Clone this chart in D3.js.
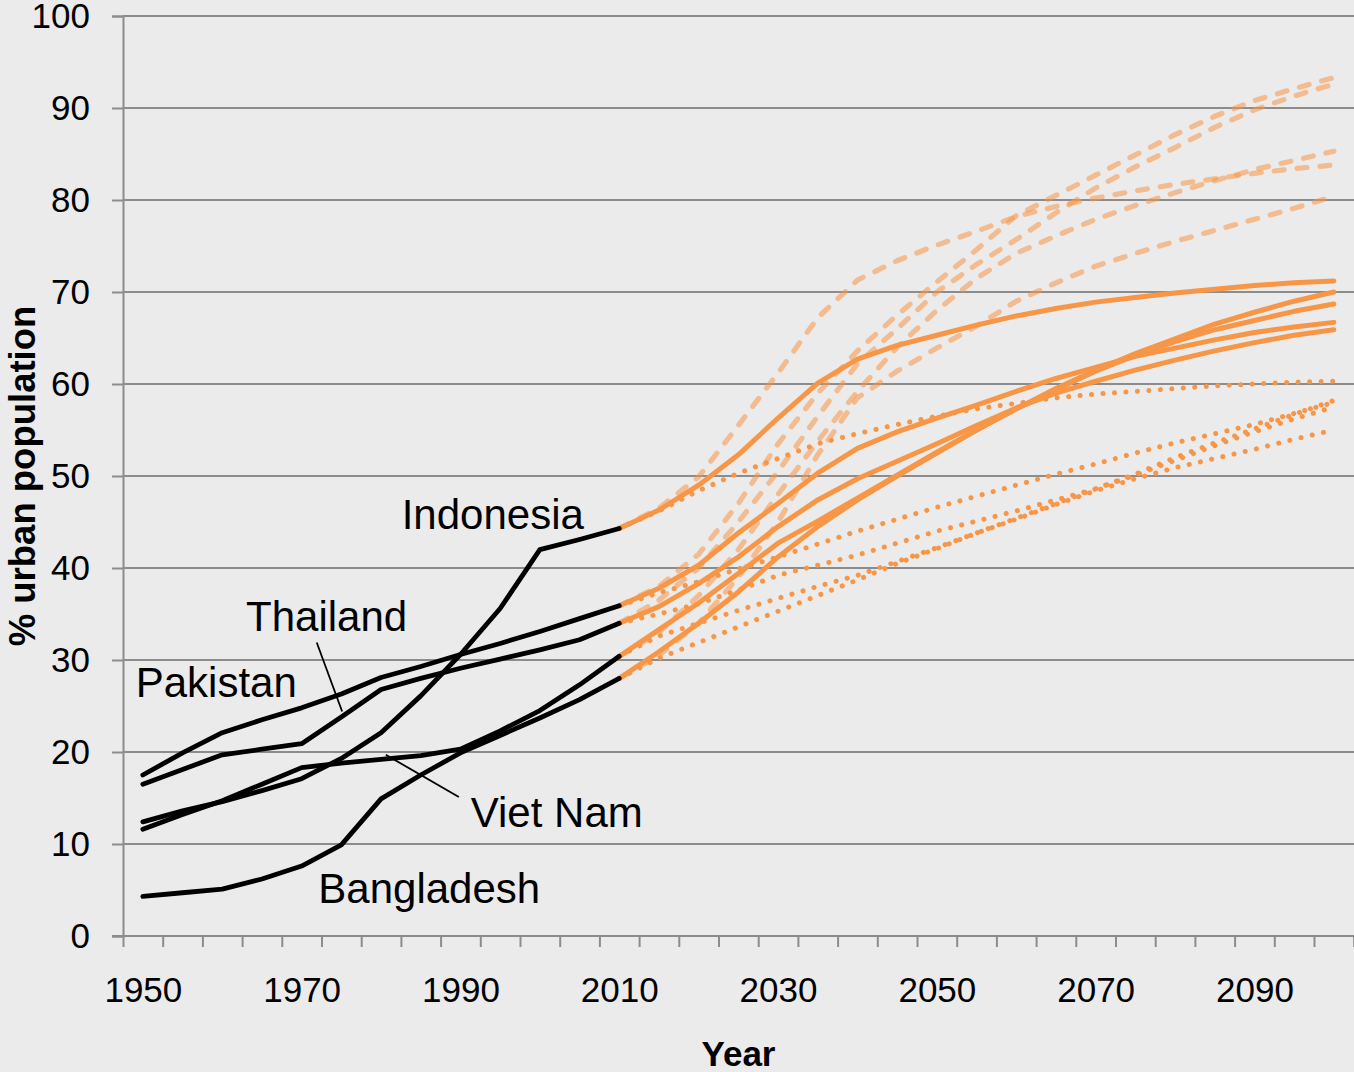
<!DOCTYPE html>
<html><head><meta charset="utf-8">
<script src="https://cdn.jsdelivr.net/npm/d3@7"></script>
<style>
html,body{margin:0;padding:0;background:#EBEBEB;}
svg{display:block;}
text{font-family:"Liberation Sans", Arial, sans-serif;}
</style></head>
<body>
<svg id="chart" width="1354" height="1072"></svg>
<script>
// ---------- DATA ----------
const histYears = [1950,1955,1960,1965,1970,1975,1980,1985,1990,1995,2000,2005,2010];
const projYears = [2010,2015,2020,2025,2030,2035,2040,2045,2050,2055,2060,2065,2070,2075,2080,2085,2090,2095,2100];
const xLabelYears = [1950,1970,1990,2010,2030,2050,2070,2090];
const yTickValues = [0,10,20,30,40,50,60,70,80,90,100];
const countries = ["Indonesia","Pakistan","Thailand","Viet Nam","Bangladesh"];

// historical (black)
const histIndonesia  = [12.4,13.6,14.6,15.8,17.1,19.3,22.1,26.1,30.6,35.6,42.0,43.1,44.3];
const histPakistan   = [17.5,19.9,22.1,23.5,24.8,26.3,28.1,29.3,30.6,31.8,33.1,34.5,35.9];
const histThailand   = [16.5,18.1,19.7,20.3,20.9,23.8,26.8,28.0,29.1,30.1,31.1,32.2,34.0];
const histVietNam    = [11.6,13.2,14.7,16.5,18.3,18.8,19.2,19.6,20.3,22.3,24.5,27.3,30.4];
const histBangladesh = [4.3,4.7,5.1,6.2,7.6,9.9,14.9,17.5,19.9,21.8,23.7,25.7,28.0];

// projections: medium (solid)
const medIndonesia  = [44.3,46.3,49.0,52.3,56.3,60.1,62.7,64.2,65.3,66.4,67.4,68.2,68.9,69.4,69.9,70.3,70.7,71.0,71.2];
const medPakistan   = [35.9,37.8,40.3,43.8,47.0,50.3,53.0,54.8,56.3,57.7,59.2,60.6,61.8,63.0,63.9,64.8,65.6,66.2,66.7];
const medThailand   = [34.0,35.8,38.3,41.2,44.5,47.4,49.7,51.6,53.5,55.5,57.4,59.0,60.3,61.5,62.6,63.6,64.5,65.3,65.9];
const medVietNam    = [30.4,33.3,36.2,39.4,42.7,45.1,47.6,50.1,52.6,55.0,57.3,59.4,61.4,63.1,64.6,65.9,66.9,67.9,68.7];
const medBangladesh = [28.0,30.9,34.0,37.4,41.2,44.5,47.4,50.0,52.5,55.0,57.3,59.5,61.5,63.3,64.9,66.5,67.8,69.0,70.0];

// projections: high urbanization (dashed)
const highIndonesia  = [44.3,46.5,49.9,55.5,61.2,67.2,71.3,73.4,75.1,76.6,78.2,79.3,80.2,81.0,81.7,82.3,82.9,83.4,83.8];
const highPakistan   = [35.9,38.0,41.5,47.0,53.5,59.0,63.6,67.5,71.1,74.6,78.3,80.5,82.7,84.9,87.1,89.1,90.8,92.1,93.3];
const highThailand   = [34.0,36.5,40.0,45.0,50.5,56.5,62.2,66.0,70.0,73.0,75.7,78.6,81.3,83.6,85.7,87.9,89.8,91.3,92.6];
const highVietNam    = [30.4,33.0,37.0,42.0,48.0,53.8,59.2,64.0,68.0,71.5,74.2,76.1,77.9,79.4,80.8,82.1,83.3,84.3,85.3];
const highBangladesh = [28.0,30.5,34.0,39.0,45.0,52.3,58.5,61.4,63.9,66.3,69.0,71.0,72.8,74.2,75.5,76.7,77.9,79.1,80.4];

// projections: low urbanization (dotted)
const lowIndonesia  = [44.3,46.2,48.4,50.3,51.9,53.5,54.6,55.6,56.5,57.3,57.9,58.5,58.9,59.2,59.5,59.8,60.0,60.2,60.3];
const lowPakistan   = [35.9,37.3,38.5,39.9,41.2,42.6,44.0,45.3,46.6,47.8,49.0,50.2,51.3,52.5,53.6,54.6,55.6,56.8,58.0];
const lowThailand   = [34.0,35.0,36.1,37.6,39.2,40.3,41.4,42.7,44.0,45.1,46.2,47.4,48.6,50.2,52.0,53.6,55.1,56.7,58.2];
const lowVietNam    = [30.4,32.6,34.0,35.4,36.7,38.0,39.2,40.7,42.2,43.8,45.4,47.0,48.6,50.1,51.7,53.3,54.8,56.2,57.5];
const lowBangladesh = [28.0,30.2,31.9,33.6,35.3,37.0,38.7,40.5,42.1,43.8,45.3,46.9,48.4,49.7,50.9,51.9,52.9,54.0,55.0];

// annotations (anchor in data units: year, % urban)
const labelTexts = ["Indonesia","Thailand","Pakistan","Viet Nam","Bangladesh"];
const labelYears = [1982.6,1963.0,1949.1,1991.3,1972.1];
const labelValues = [44.2,33.2,26.0,11.9,3.6];
const pointerYears = [[1971.9,1975.1],[1980.6,1989.8]];
const pointerValues = [[31.9,24.4],[19.7,15.1]];

// ---------- CHART ----------
const svg = d3.select("#chart");
const W = 1354, H = 1072;
const plotLeft = 123, plotTop = 16, plotBottom = 936, plotRight = 1353.7;
svg.append("rect").attr("width",W).attr("height",H).attr("fill","#EBEBEB");

const x = d3.scaleLinear().domain([1947.5, 2102.5]).range([plotLeft, plotRight]);
const y = d3.scaleLinear().domain([0,100]).range([plotBottom, plotTop]);

const gridColor = "#8C8C8C";

// gridlines
svg.append("g").selectAll("line").data(yTickValues.filter(v=>v>0)).join("line")
  .attr("x1",plotLeft).attr("x2",W).attr("y1",d=>y(d)).attr("y2",d=>y(d))
  .attr("stroke",gridColor).attr("stroke-width",2);

// y axis
const yAxis = svg.append("g").attr("transform",`translate(${plotLeft},0)`)
  .call(d3.axisLeft(y).tickValues(yTickValues).tickSize(11).tickPadding(22).tickFormat(d3.format("d")));
yAxis.select(".domain").attr("stroke",gridColor).attr("stroke-width",2);
yAxis.selectAll(".tick line").attr("stroke",gridColor).attr("stroke-width",2);
yAxis.selectAll(".tick text").attr("font-size","35px").attr("fill","#000")
  .attr("font-family","'Liberation Sans', Arial, sans-serif");

// x axis: tick marks at category boundaries
const boundaries = d3.range(0, 32).map(i => 1947.5 + 5*i);
const xTicks = svg.append("g").attr("transform",`translate(0,${plotBottom})`)
  .call(d3.axisBottom(x).tickValues(boundaries).tickSize(11).tickFormat(""));
xTicks.select(".domain").remove();
xTicks.selectAll(".tick line").attr("stroke",gridColor).attr("stroke-width",2);
svg.append("line").attr("x1",plotLeft-11).attr("x2",W).attr("y1",plotBottom).attr("y2",plotBottom)
  .attr("stroke",gridColor).attr("stroke-width",2);

const xLabels = svg.append("g").attr("transform",`translate(0,${plotBottom})`)
  .call(d3.axisBottom(x).tickValues(xLabelYears).tickSize(0).tickPadding(41).tickFormat(d3.format("d")));
xLabels.select(".domain").remove();
xLabels.selectAll(".tick text").attr("font-size","35px").attr("fill","#000")
  .attr("font-family","'Liberation Sans', Arial, sans-serif");

// axis titles
svg.append("text").attr("x",(plotLeft+W)/2).attr("y",1066).attr("text-anchor","middle")
  .attr("font-size","35px").attr("font-weight","bold").attr("fill","#000").text("Year");
svg.append("text").attr("transform",`translate(35,${(plotTop+plotBottom)/2}) rotate(-90)`)
  .attr("text-anchor","middle").attr("font-size","36.5px").attr("font-weight","bold")
  .attr("fill","#000").text("% urban population");

// lines
const line = d3.line().x(d=>x(d[0])).y(d=>y(d[1]));
const zip = (xs, vs) => xs.map((v,i)=>[v, vs[i]]);

const hist = [histIndonesia,histPakistan,histThailand,histVietNam,histBangladesh];
const med  = [medIndonesia,medPakistan,medThailand,medVietNam,medBangladesh];
const high = [highIndonesia,highPakistan,highThailand,highVietNam,highBangladesh];
const low  = [lowIndonesia,lowPakistan,lowThailand,lowVietNam,lowBangladesh];

const orange = "#F79646";

svg.append("g").selectAll("path").data(high).join("path")
  .attr("d",d=>line(zip(projYears,d))).attr("fill","none")
  .attr("stroke",orange).attr("stroke-opacity",0.55).attr("stroke-width",5.2)
  .attr("stroke-dasharray","10,13").attr("stroke-linecap","round").attr("stroke-linejoin","round");

svg.append("g").selectAll("path").data(low).join("path")
  .attr("d",d=>line(zip(projYears,d))).attr("fill","none")
  .attr("stroke",orange).attr("stroke-width",5)
  .attr("stroke-dasharray","0.1,11.4").attr("stroke-linecap","round").attr("stroke-linejoin","round");

svg.append("g").selectAll("path").data(med).join("path")
  .attr("d",d=>line(zip(projYears,d))).attr("fill","none")
  .attr("stroke",orange).attr("stroke-width",5)
  .attr("stroke-linecap","round").attr("stroke-linejoin","round");

svg.append("g").selectAll("path").data(hist).join("path")
  .attr("d",d=>line(zip(histYears,d))).attr("fill","none")
  .attr("stroke","#000").attr("stroke-width",4.8)
  .attr("stroke-linecap","round").attr("stroke-linejoin","round");

// pointer lines
svg.append("g").selectAll("line").data(pointerYears).join("line")
  .attr("x1",(d)=>x(d[0])).attr("x2",(d)=>x(d[1]))
  .attr("y1",(d,i)=>y(pointerValues[i][0])).attr("y2",(d,i)=>y(pointerValues[i][1]))
  .attr("stroke","#000").attr("stroke-width",1.8);

// labels
svg.append("g").selectAll("text").data(labelTexts).join("text")
  .attr("x",(d,i)=>x(labelYears[i])).attr("y",(d,i)=>y(labelValues[i]))
  .attr("font-size","42px").attr("fill","#000").text(d=>d);
</script>
</body></html>
